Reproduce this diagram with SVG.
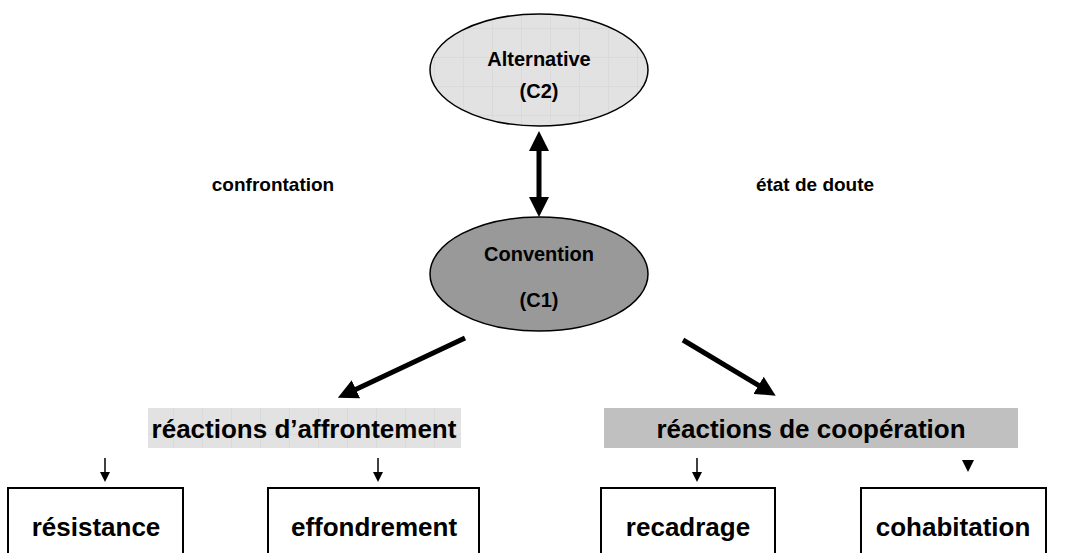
<svg xmlns="http://www.w3.org/2000/svg" width="1074" height="553" viewBox="0 0 1074 553">
<style>
text{font-family:"Liberation Sans",Arial,sans-serif;font-weight:bold;fill:#000;text-anchor:middle}
.t{font-size:20px}
.lab{font-size:19px}
.b{font-size:26px}
.box{fill:#fff;stroke:#000;stroke-width:2}
.con{stroke:#000;stroke-width:5;fill:none}
.thin{stroke:#000;stroke-width:1.5;fill:none}
</style>
<defs>
<pattern id="grid" width="29" height="29" patternUnits="userSpaceOnUse">
<rect width="29" height="29" fill="#e2e2e2"/>
<path d="M29 0V29M0 29H29" stroke="#d2d2d2" stroke-width="1"/>
</pattern>
<marker id="ah" markerWidth="4" markerHeight="4" refX="2.2" refY="2" orient="auto" markerUnits="strokeWidth">
<path d="M0,0L4,2L0,4z" fill="#000"/>
</marker>
<marker id="ahs" markerWidth="4" markerHeight="4" refX="2.2" refY="2" orient="auto-start-reverse" markerUnits="strokeWidth">
<path d="M0,0L4,2L0,4z" fill="#000"/>
</marker>
<marker id="sh" markerWidth="10" markerHeight="10" refX="6" refY="5" orient="auto" markerUnits="userSpaceOnUse">
<path d="M0,0L10,5L0,10z" fill="#000"/>
</marker>
</defs>
<g id="alternative">
<ellipse cx="539" cy="70" rx="109" ry="56" fill="url(#grid)" stroke="#000" stroke-width="1.5"/>
<text class="t" x="539" y="66">Alternative</text>
<text class="t" x="539" y="98">(C2)</text>
</g>
<g id="convention">
<ellipse cx="539" cy="274" rx="109" ry="57" fill="#999" stroke="#000" stroke-width="1.5"/>
<text class="t" x="539" y="261">Convention</text>
<text class="t" x="539" y="307">(C1)</text>
</g>
<g id="labels">
<text class="lab" x="273" y="191">confrontation</text>
<text class="lab" x="815" y="191">état de doute</text>
</g>
<g id="affrontement">
<rect x="148" y="408" width="313" height="40" fill="url(#grid)"/>
<text class="b" x="304" y="438">réactions d’affrontement</text>
</g>
<g id="cooperation">
<rect x="604" y="408" width="414" height="40" fill="#c0c0c0"/>
<text class="b" x="811" y="438">réactions de coopération</text>
</g>
<g id="resistance">
<rect class="box" x="8" y="488" width="175" height="80"/>
<text class="b" x="96" y="536">résistance</text>
</g>
<g id="effondrement">
<rect class="box" x="268" y="488" width="211" height="80"/>
<text class="b" x="374" y="536">effondrement</text>
</g>
<g id="recadrage">
<rect class="box" x="601" y="488" width="174" height="80"/>
<text class="b" x="688" y="536">recadrage</text>
</g>
<g id="cohabitation">
<rect class="box" x="861" y="488" width="185" height="80"/>
<text class="b" x="953" y="536">cohabitation</text>
</g>
<g id="connectors">
<line class="con" x1="539" y1="140" x2="539" y2="208" marker-start="url(#ahs)" marker-end="url(#ah)"/>
<line class="con" x1="465" y1="338" x2="346" y2="394" marker-end="url(#ah)"/>
<line class="con" x1="683" y1="340" x2="768" y2="391" marker-end="url(#ah)"/>
<line class="thin" x1="105" y1="458" x2="105" y2="478" marker-end="url(#sh)"/>
<line class="thin" x1="378" y1="458" x2="378" y2="478" marker-end="url(#sh)"/>
<line class="thin" x1="697" y1="458" x2="697" y2="478" marker-end="url(#sh)"/>
<path d="M962,460L974,460L968,472z" fill="#000"/>
</g>
</svg>
